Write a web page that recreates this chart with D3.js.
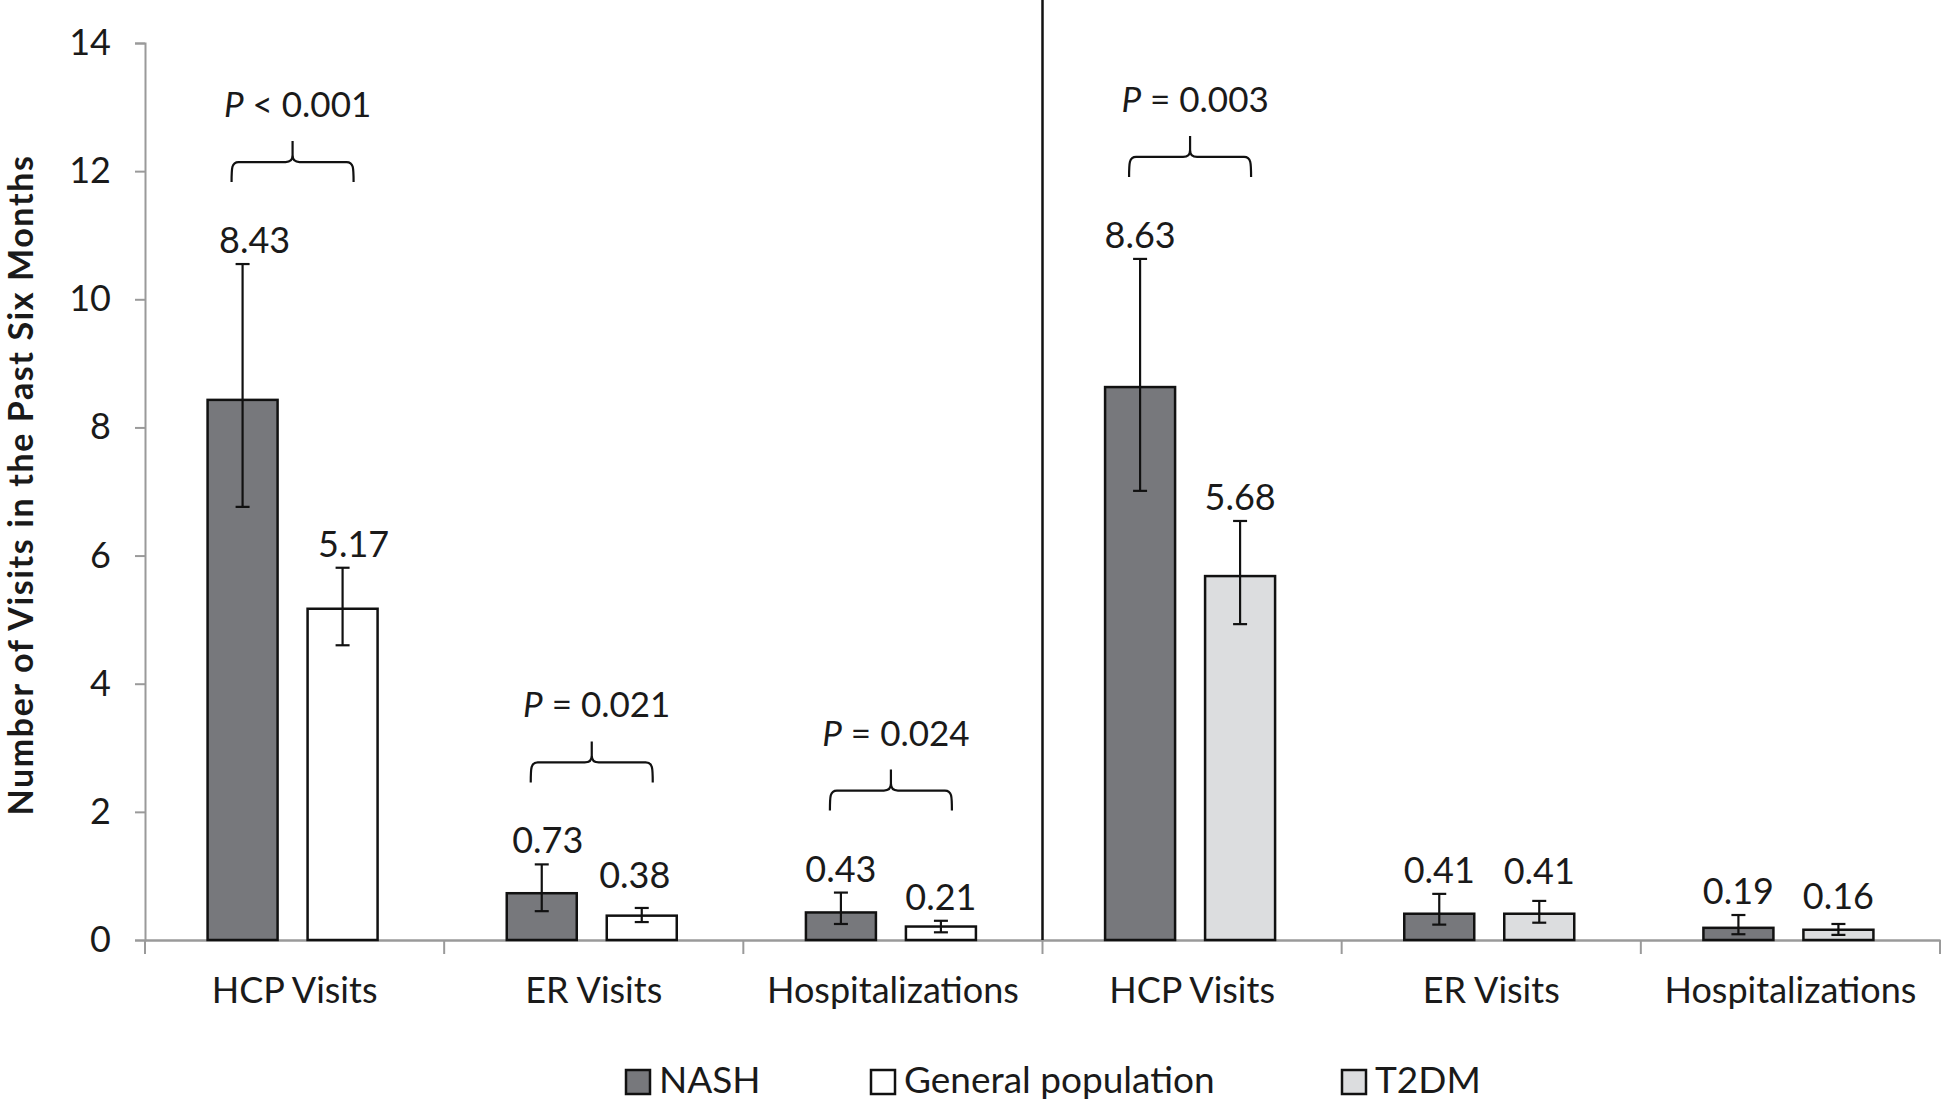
<!DOCTYPE html>
<html>
<head>
<meta charset="utf-8">
<script src="https://cdn.jsdelivr.net/npm/d3@7"></script>
<style>
  html, body { margin: 0; padding: 0; background: #fff; }
  svg { display: block; }
  text { font-family: Lato, "Open Sans", sans-serif; fill: #1a1a1a; }
</style>
</head>
<body>
<svg id="chart" width="1944" height="1104"></svg>
<script>
// ---------- data ----------
const categories = ["HCP Visits", "ER Visits", "Hospitalizations", "HCP Visits", "ER Visits", "Hospitalizations"];
const nashValues = [8.43, 0.73, 0.43, 8.63, 0.41, 0.19];
const nashLow    = [6.76, 0.45, 0.25, 7.01, 0.24, 0.09];
const nashHigh   = [10.55, 1.18, 0.74, 10.63, 0.72, 0.39];
const compValues = [5.17, 0.38, 0.21, 5.68, 0.41, 0.16];
const compLow    = [4.60, 0.28, 0.12, 4.93, 0.27, 0.08];
const compHigh   = [5.81, 0.50, 0.30, 6.54, 0.61, 0.25];
const compSeries = ["General population", "General population", "General population", "T2DM", "T2DM", "T2DM"];
const seriesNames = ["NASH", "General population", "T2DM"];
const seriesColors = ["#77787c", "#ffffff", "#dcdddf"];
const yTicks = [0, 2, 4, 6, 8, 10, 12, 14];
const pCategory = [0, 1, 2, 3];
const pOperator = ["<", "=", "=", "="];
const pNumber = ["0.001", "0.021", "0.024", "0.003"];
const labelFormat = d3.format(".2f");

// ---------- layout ----------
const svg = d3.select("#chart");
const mLeft = 145, mRight = 1940, mTop = 43, mBottom = 940;
const barW = 70, barStep = 100, pairShift = -2;
const fontSize = 36;
// small hand placement of some value labels, as in the original figure: [dx, dy] per bar
const labelNudge = [[[12, 0], [11, 0]], [[6, 0], [-7, -9]], [[0, 0], [0, 0]],
                    [[0, 0], [0, 0]], [[0, 0], [0, -6]], [[0, 0], [0, -4]]];

const x = d3.scaleBand().domain(d3.range(categories.length)).range([mLeft, mRight]).padding(0);
const y = d3.scaleLinear().domain([0, 14]).range([mBottom, mTop]);
const color = d3.scaleOrdinal().domain(seriesNames).range(seriesColors);

const center = i => x(i) + x.bandwidth() / 2 + pairShift;
const barX = (i, k) => center(i) + (k === 0 ? -barStep / 2 : barStep / 2);

// ---------- y axis ----------
const yAxis = svg.append("g").attr("transform", `translate(${mLeft},0)`)
  .call(d3.axisLeft(y).tickValues(yTicks).tickSize(10).tickPadding(24).tickFormat(d3.format("d")));
yAxis.select(".domain").attr("stroke", "#9a9a9a").attr("stroke-width", 2);
yAxis.selectAll(".tick line").attr("stroke", "#9a9a9a").attr("stroke-width", 2);
yAxis.selectAll(".tick text").attr("font-size", fontSize).attr("font-family", "Lato").attr("fill", "#1a1a1a");

// ---------- x axis ----------
const xAxis = svg.append("g").attr("transform", `translate(0,${mBottom})`)
  .call(d3.axisBottom(x).tickSize(0).tickFormat(i => categories[i]).tickPadding(50));
xAxis.select(".domain").attr("stroke", "#9a9a9a").attr("stroke-width", 2.5);
xAxis.selectAll(".tick text").attr("font-size", 36).attr("font-family", "Lato").attr("fill", "#1a1a1a")
  .attr("dy", 0).attr("y", 63);
// boundary ticks between categories
const bounds = d3.range(categories.length + 1).map(i => i < categories.length ? x(i) : mRight);
svg.append("g").selectAll("line").data(bounds).join("line")
  .attr("x1", d => d).attr("x2", d => d)
  .attr("y1", mBottom).attr("y2", mBottom + 14)
  .attr("stroke", "#9a9a9a").attr("stroke-width", 2);

// panel separator
svg.append("line")
  .attr("x1", x(3)).attr("x2", x(3)).attr("y1", 0).attr("y2", mBottom)
  .attr("stroke", "#111").attr("stroke-width", 2.5);

// ---------- y title ----------
svg.append("text")
  .attr("transform", `translate(33,${(158 + 812) / 2}) rotate(-90)`)
  .attr("text-anchor", "middle")
  .attr("font-size", 34).attr("font-weight", "bold")
  .attr("letter-spacing", 1.6)
  .text("Number of Visits in the Past Six Months");

// ---------- bars ----------
const bars = categories.map((c, i) => [
  { i, k: 0, v: nashValues[i], lo: nashLow[i], hi: nashHigh[i], s: "NASH" },
  { i, k: 1, v: compValues[i], lo: compLow[i], hi: compHigh[i], s: compSeries[i] }
]).flat();

const g = svg.append("g");
g.selectAll("rect").data(bars).join("rect")
  .attr("x", d => barX(d.i, d.k) - barW / 2)
  .attr("width", barW)
  .attr("y", d => y(d.v))
  .attr("height", d => y(0) - y(d.v))
  .attr("fill", d => color(d.s))
  .attr("stroke", "#111").attr("stroke-width", 2.5);

// error bars
const capW = 14;
const eb = g.selectAll("g.err").data(bars).join("g").attr("class", "err")
  .attr("stroke", "#111").attr("stroke-width", 2.2);
eb.append("line").attr("x1", d => barX(d.i, d.k)).attr("x2", d => barX(d.i, d.k))
  .attr("y1", d => y(d.lo)).attr("y2", d => y(d.hi));
eb.append("line").attr("x1", d => barX(d.i, d.k) - capW / 2).attr("x2", d => barX(d.i, d.k) + capW / 2)
  .attr("y1", d => y(d.lo)).attr("y2", d => y(d.lo));
eb.append("line").attr("x1", d => barX(d.i, d.k) - capW / 2).attr("x2", d => barX(d.i, d.k) + capW / 2)
  .attr("y1", d => y(d.hi)).attr("y2", d => y(d.hi));

// value labels
g.selectAll("text.val").data(bars).join("text").attr("class", "val")
  .attr("x", d => barX(d.i, d.k) + labelNudge[d.i][d.k][0])
  .attr("y", d => y(d.hi) - 11 + labelNudge[d.i][d.k][1])
  .attr("text-anchor", "middle")
  .attr("font-size", fontSize)
  .text(d => labelFormat(d.v));

// ---------- p-value brackets ----------
const pData = pCategory.map((c, j) => ({ c, op: pOperator[j], num: pNumber[j] }));
const br = svg.append("g").selectAll("g").data(pData).join("g");
br.append("path")
  .attr("fill", "none").attr("stroke", "#111").attr("stroke-width", 2.2)
  .attr("d", d => {
    const x1 = barX(d.c, 0) - 11, x2 = barX(d.c, 1) + 11, xm = (x1 + x2) / 2;
    const yb = y(nashHigh[d.c]) - 82, yl = yb - 20, yt = yl - 21, r = 7;
    return `M${x1},${yb} C${x1},${yl + 6} ${x1},${yl} ${x1 + r},${yl} L${xm - r},${yl} Q${xm},${yl} ${xm},${yl - r} L${xm},${yt}` +
           ` M${xm},${yl - r} Q${xm},${yl} ${xm + r},${yl} L${x2 - r},${yl} C${x2},${yl} ${x2},${yl + 6} ${x2},${yb}`;
  });
const pt = br.append("text")
  .attr("x", d => (barX(d.c, 0) + barX(d.c, 1)) / 2 + 5)
  .attr("y", d => y(nashHigh[d.c]) - 82 - 41 - 24)
  .attr("text-anchor", "middle")
  .attr("font-size", 35);
pt.append("tspan").attr("font-style", "italic").text("P");
pt.append("tspan").text(d => ` ${d.op} ${d.num}`);

// ---------- legend ----------
const legendX = [626, 871, 1342];
const lg = svg.append("g").selectAll("g").data(seriesNames).join("g")
  .attr("transform", (d, i) => `translate(${legendX[i]},1070)`);
lg.append("rect").attr("width", 24).attr("height", 24)
  .attr("fill", d => color(d)).attr("stroke", "#111").attr("stroke-width", 2.5);
lg.append("text").attr("x", 33).attr("y", 23).attr("font-size", 37).text(d => d);
</script>
</body>
</html>
